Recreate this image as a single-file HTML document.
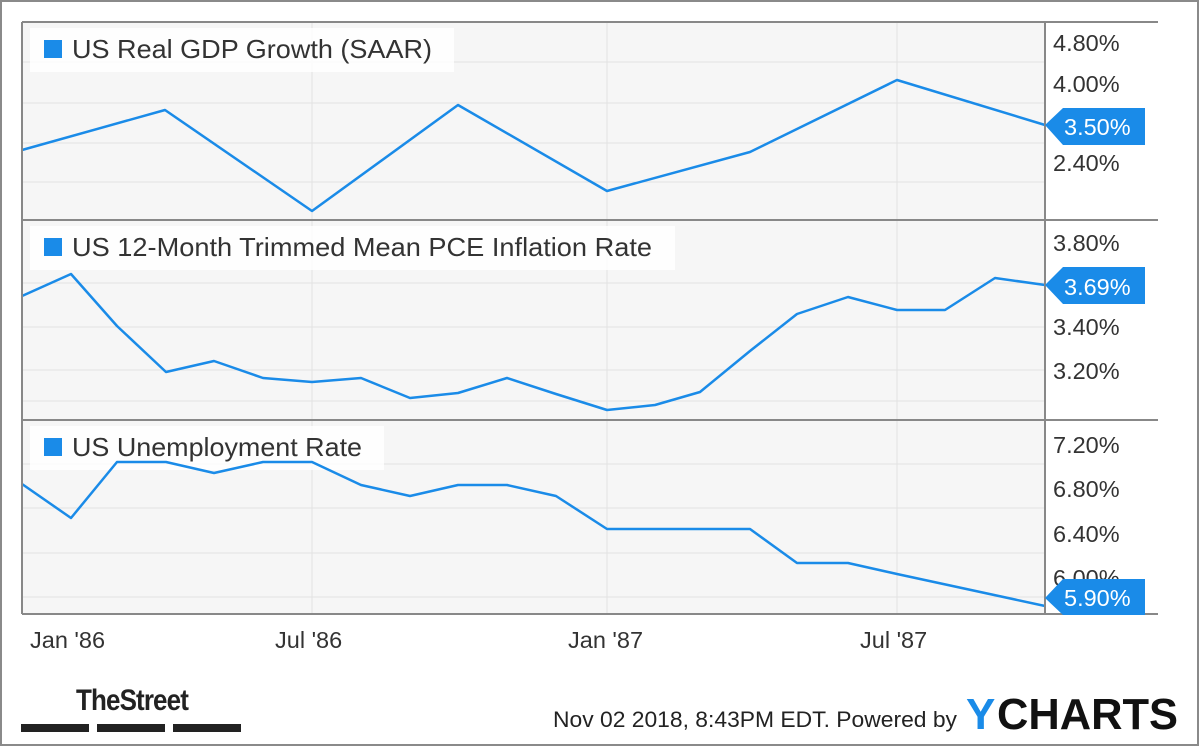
<!DOCTYPE html>
<html><head><style>
body{margin:0;width:1200px;height:747px;background:#fff;overflow:hidden}
svg{display:block}
text{font-family:"Liberation Sans",sans-serif}
</style></head><body>
<svg width="1200" height="747" viewBox="0 0 1200 747">
<rect x="1" y="1" width="1197" height="744" fill="#fff" stroke="#8a8a8a" stroke-width="2"/>
<rect x="22" y="22" width="1023" height="592" fill="#f6f6f6"/>
<g stroke="#e2e2e2" stroke-width="1">
<line x1="22" y1="62" x2="1045" y2="62"/><line x1="22" y1="103" x2="1045" y2="103"/><line x1="22" y1="143" x2="1045" y2="143"/><line x1="22" y1="182" x2="1045" y2="182"/>
<line x1="22" y1="283" x2="1045" y2="283"/><line x1="22" y1="327" x2="1045" y2="327"/><line x1="22" y1="370" x2="1045" y2="370"/><line x1="22" y1="401" x2="1045" y2="401"/>
<line x1="22" y1="464" x2="1045" y2="464"/><line x1="22" y1="508" x2="1045" y2="508"/><line x1="22" y1="553" x2="1045" y2="553"/><line x1="22" y1="597" x2="1045" y2="597"/>
<line x1="312" y1="22" x2="312" y2="614"/><line x1="607" y1="22" x2="607" y2="614"/><line x1="897" y1="22" x2="897" y2="614"/>
</g>
<g fill="#fff" opacity="0.85">
<rect x="30" y="28" width="424" height="44"/><rect x="30" y="226" width="645" height="44"/><rect x="30" y="426" width="354" height="44"/>
</g>
<g fill="none" stroke="#1a8be8" stroke-width="2.5" stroke-linejoin="round">
<polyline points="22,150 165,110 312,211 458,105 607,191 750,152 897,80 1045,125"/>
<polyline points="22,296 71,274 117,326 166,372 214,361 263,378 312,382 361,378 410,398 458,393 507,378 556,394 607,410 655,405 700,392 750,351 797,314 848,297 897,310 945,310 995,278 1045,285"/>
<polyline points="22,484 71,518 117,462 166,462 214,473 263,462 312,462 361,485 410,496 458,485 507,485 556,496 607,529 655,529 700,529 750,529 797,563 848,563 897,574 1045,606"/>
</g>
<g stroke="#888" stroke-width="2" fill="none">
<line x1="22" y1="22" x2="1158" y2="22"/><line x1="22" y1="220" x2="1158" y2="220"/><line x1="22" y1="420" x2="1158" y2="420"/><line x1="22" y1="614" x2="1158" y2="614"/>
<line x1="22" y1="22" x2="22" y2="614"/><line x1="1045" y1="22" x2="1045" y2="614"/>
</g>
<g fill="#1a8be8"><rect x="44" y="40" width="18" height="18"/><rect x="44" y="238" width="18" height="18"/><rect x="44" y="438" width="18" height="18"/></g>
<g font-size="26" fill="#333">
<text x="72" y="58" textLength="360" lengthAdjust="spacingAndGlyphs">US Real GDP Growth (SAAR)</text>
<text x="72" y="256" textLength="580" lengthAdjust="spacingAndGlyphs">US 12-Month Trimmed Mean PCE Inflation Rate</text>
<text x="72" y="456" textLength="290" lengthAdjust="spacingAndGlyphs">US Unemployment Rate</text>
</g>
<g font-size="23.5" fill="#333">
<text x="1053" y="51">4.80%</text><text x="1053" y="92">4.00%</text><text x="1053" y="171">2.40%</text>
<text x="1053" y="251">3.80%</text><text x="1053" y="335">3.40%</text><text x="1053" y="379">3.20%</text>
<text x="1053" y="453">7.20%</text><text x="1053" y="497">6.80%</text><text x="1053" y="542">6.40%</text><text x="1053" y="586">6.00%</text>
<text x="30" y="648">Jan '86</text><text x="275" y="648">Jul '86</text><text x="568" y="648">Jan '87</text><text x="860" y="648">Jul '87</text>
</g>
<g fill="#1a8be8">
<polygon points="1045,125 1063,108 1145,108 1145,145 1063,145"/>
<polygon points="1045,285 1063,267 1145,267 1145,304 1063,304"/>
<polygon points="1045,598 1063,579 1145,579 1145,615 1063,615"/>
</g>
<g font-size="23.5" fill="#fff">
<text x="1064" y="135">3.50%</text><text x="1064" y="295">3.69%</text><text x="1064" y="606">5.90%</text>
</g>
<text x="76" y="710" font-size="30" font-weight="bold" fill="#222" textLength="112" lengthAdjust="spacingAndGlyphs" style="letter-spacing:-1px">TheStreet</text>
<g fill="#222"><rect x="21" y="724" width="68" height="8"/><rect x="97" y="724" width="68" height="8"/><rect x="173" y="724" width="68" height="8"/></g>
<text x="553" y="727" font-size="22" fill="#222" textLength="404" lengthAdjust="spacingAndGlyphs">Nov 02 2018, 8:43PM EDT.  Powered by</text>
<text x="966" y="729" font-size="44" font-weight="bold" fill="#1a8be8">Y</text>
<text x="997" y="729" font-size="44" font-weight="bold" fill="#111" textLength="181" lengthAdjust="spacingAndGlyphs">CHARTS</text>
</svg>
</body></html>
